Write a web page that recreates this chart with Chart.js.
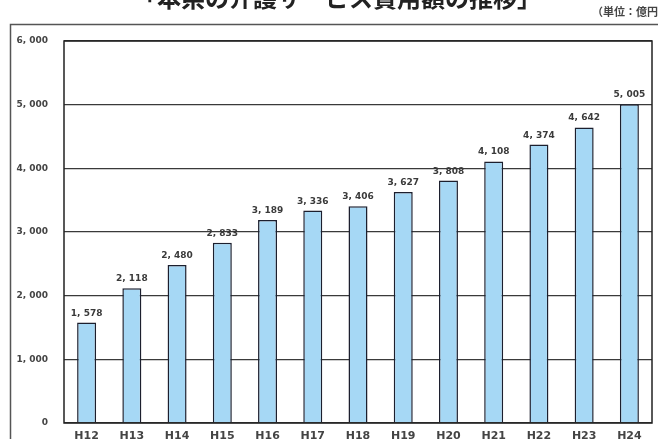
<!DOCTYPE html>
<html lang="ja">
<head>
<meta charset="utf-8">
<script src="https://cdn.jsdelivr.net/npm/chart.js@4"></script>
<style>
html,body{margin:0;padding:0;background:#fff;}
#wrap{width:658px;height:439px;position:relative;}
</style>
</head>
<body>
<div id="wrap"><canvas id="grafico"></canvas></div>
<script>
// anni (Heisei) e costo dei servizi di assistenza, in 億円
const anni = ['H12','H13','H14','H15','H16','H17','H18','H19','H20','H21','H22','H23','H24'];
const costi = [1578, 2118, 2480, 2833, 3189, 3336, 3406, 3627, 3808, 4108, 4374, 4642, 5005];
const scalaY = { min: 0, max: 6000, passo: 1000 };
const titolo = '「本県の介護サービス費用額の推移」';
const unita = '（単位：億円）';

// "1578" -> "1, 578"
function formato(v){
    return Number(v).toLocaleString('en-US').replace(/,/g, ', ');
}

// titolo, unità e cornice esterna
const cornice = {
    id: 'cornice',
    beforeDraw(chart){
        const ctx = chart.ctx;
        ctx.save();
        ctx.strokeStyle = '#555';
        ctx.lineWidth = 1.5;
        ctx.beginPath();
        ctx.moveTo(10.5, 440);
        ctx.lineTo(10.5, 24.5);
        ctx.lineTo(658, 24.5);
        ctx.stroke();

        ctx.fillStyle = '#222';
        ctx.font = 'bold 24px "Noto Sans CJK JP"';
        ctx.textAlign = 'center';
        ctx.textBaseline = 'alphabetic';
        ctx.fillText(titolo, 337, 7);

        ctx.fillStyle = '#444';
        ctx.font = 'bold 11px "Noto Sans CJK JP"';
        ctx.textAlign = 'left';
        ctx.textBaseline = 'middle';
        ctx.fillText(unita, 592, 12);
        ctx.restore();
    },
    afterDatasetsDraw(chart){
        const ctx = chart.ctx;
        const a = chart.chartArea;
        ctx.save();
        // bordo dell'area del grafico
        ctx.strokeStyle = '#222';
        ctx.lineWidth = 1.5;
        ctx.strokeRect(a.left, a.top, a.right - a.left, a.bottom - a.top);

        // valori sopra le barre
        const meta = chart.getDatasetMeta(0);
        ctx.fillStyle = '#3a3a3a';
        ctx.font = 'bold 9px "DejaVu Sans"';
        ctx.textAlign = 'center';
        ctx.textBaseline = 'alphabetic';
        meta.data.forEach((bar, i) => {
            ctx.fillText(formato(chart.data.datasets[0].data[i]), bar.x, bar.y - 7);
        });
        ctx.restore();
    }
};

function creaGrafico(idCanvas){
    const ctx = document.getElementById(idCanvas).getContext('2d');
    return new Chart(ctx, {
        type: 'bar',
        data: {
            labels: anni,
            datasets: [{
                data: costi,
                backgroundColor: '#a6d8f5',
                borderColor: '#1c1f2e',
                borderWidth: 1.5,
                borderSkipped: 'bottom',
                barPercentage: 0.42,
                categoryPercentage: 1.0
            }]
        },
        options: {
            responsive: true,
            maintainAspectRatio: false,
            animation: false,
            layout: { padding: { top: 41, right: 6, left: 0, bottom: 0 } },
            plugins: {
                legend: { display: false },
                tooltip: { enabled: false }
            },
            scales: {
                x: {
                    grid: { display: false, drawTicks: false },
                    border: { display: false },
                    ticks: {
                        color: '#444',
                        font: { family: 'DejaVu Sans', size: 11, weight: 'bold' },
                        padding: 7,
                        maxRotation: 0
                    },
                    afterFit(s){ s.height = 16; }
                },
                y: {
                    min: scalaY.min,
                    max: scalaY.max,
                    grid: { color: '#3a3a3a', lineWidth: 1.3, drawTicks: false },
                    border: { display: false },
                    ticks: {
                        stepSize: scalaY.passo,
                        color: '#444',
                        font: { family: 'DejaVu Sans', size: 9, weight: 'bold' },
                        padding: 16,
                        callback: v => formato(v)
                    },
                    afterFit(s){
                        s.width = 64;
                        s.paddingTop = 0;
                        s.paddingBottom = 0;
                    }
                }
            }
        },
        plugins: [cornice]
    });
}

creaGrafico('grafico');
</script>
</body>
</html>
